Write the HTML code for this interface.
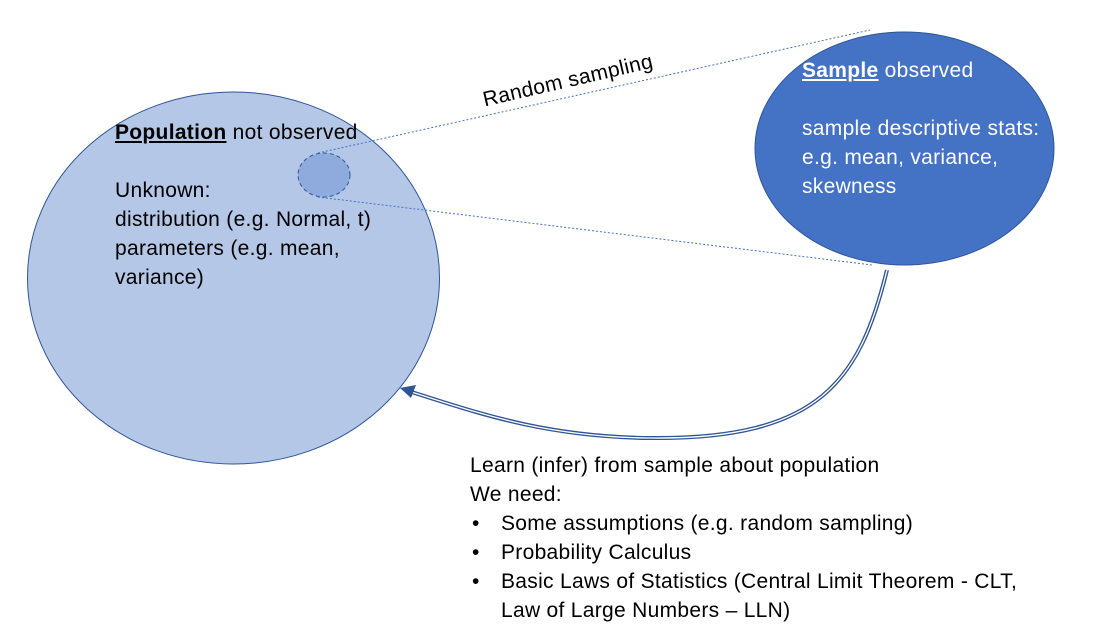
<!DOCTYPE html>
<html><head><meta charset="utf-8"><style>
body{margin:0;width:1093px;height:644px;background:#fff;position:relative;overflow:hidden;font-family:"Liberation Sans",sans-serif;}
.t{position:absolute;font-size:21px;letter-spacing:0.3px;line-height:29px;color:#000;white-space:nowrap;}
ul{margin:0;padding:0;list-style:none;}
li{position:relative;padding-left:31px;}
li:before{content:"•";position:absolute;left:2px;}
</style></head><body>
<svg width="1093" height="644" style="position:absolute;left:0;top:0">
<ellipse cx="233.5" cy="278" rx="206" ry="186" fill="#B4C7E7" stroke="#2F5597" stroke-width="1"/>
<ellipse cx="324" cy="175" rx="26" ry="22" fill="#8FAADC" stroke="#2F5597" stroke-dasharray="4,3"/>
<ellipse cx="904.5" cy="148.5" rx="149.5" ry="116.5" fill="#4472C4" stroke="#2F5597"/>
<line x1="318" y1="153" x2="870" y2="30" stroke="#4472C4" stroke-dasharray="2,2"/>
<line x1="318" y1="197" x2="872" y2="265" stroke="#4472C4" stroke-dasharray="2,2"/>
<path d="M887,270 C860,380 820,440 650,438 C540,437 470,410 405,390" fill="none" stroke="#2F5597" stroke-width="4"/>
<path d="M887,270 C860,380 820,440 650,438 C540,437 470,410 405,390" fill="none" stroke="#fff" stroke-width="1.3"/>
<path d="M400,388 L416,385 L411,398z" fill="#2F5597"/>
</svg>
<div class="t" style="left:480px;top:86px;transform:rotate(-13deg);transform-origin:left top;">Random sampling</div>
<div class="t" style="left:115px;top:118px"><b><u>Population</u></b> not observed<br><br>Unknown:<br>distribution (e.g. Normal, t)<br>parameters (e.g. mean,<br>variance)</div>
<div class="t" style="left:802px;top:56px;color:#fff"><b><u>Sample</u></b> observed<br><br>sample descriptive stats:<br>e.g. mean, variance,<br>skewness</div>
<div class="t" style="left:470px;top:451px">Learn (infer) from sample about population<br>We need:
<ul><li>Some assumptions (e.g. random sampling)</li><li>Probability Calculus</li><li>Basic Laws of Statistics (Central Limit Theorem - CLT,<br>Law of Large Numbers – LLN)</li></ul></div>
</body></html>
